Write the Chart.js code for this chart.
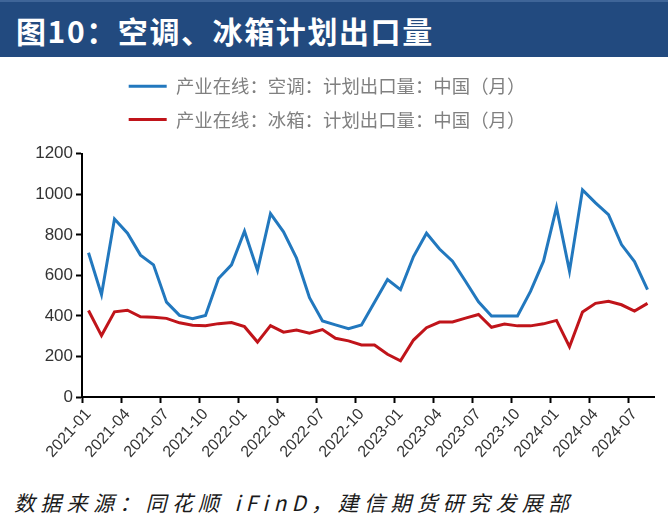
<!DOCTYPE html>
<html>
<head>
<meta charset="utf-8">
<script src="https://cdn.jsdelivr.net/npm/chart.js@4.4.1/dist/chart.umd.min.js"></script>
<style>
  html, body { margin: 0; padding: 0; background: #ffffff; }
  body { width: 668px; height: 526px; position: relative; overflow: hidden; }
  #titlebar {
    position: absolute; left: 0; top: 0; width: 668px; height: 57px;
    background: #224a7f; border-top: 2px solid #3f6598; box-sizing: border-box;
  }
  #titlebar span {
    position: absolute; left: 16px; top: 9px;
    font-family: "Noto Sans CJK SC", sans-serif; font-weight: bold;
    font-size: 30px; line-height: 38px; color: #ffffff; letter-spacing: 1.6px;
  }
  #wrap { position: absolute; left: 0; top: 58px; width: 668px; height: 420px; }
  #source {
    position: absolute; left: 14px; top: 488px;
    font-family: "Noto Sans CJK SC", sans-serif; font-style: italic;
    font-size: 21px; line-height: 28px; color: #1a1a1a; letter-spacing: 5.3px;
    white-space: nowrap;
  }
</style>
</head>
<body>
<div id="titlebar"><span>图10：空调、冰箱计划出口量</span></div>
<div id="wrap"><canvas id="c" width="668" height="420"></canvas></div>
<div id="source">数据来源：同花顺 iFinD，建信期货研究发展部</div>
<script>
const months = [
  "2021-01","2021-02","2021-03","2021-04","2021-05","2021-06","2021-07","2021-08","2021-09","2021-10","2021-11","2021-12",
  "2022-01","2022-02","2022-03","2022-04","2022-05","2022-06","2022-07","2022-08","2022-09","2022-10","2022-11","2022-12",
  "2023-01","2023-02","2023-03","2023-04","2023-05","2023-06","2023-07","2023-08","2023-09","2023-10","2023-11","2023-12",
  "2024-01","2024-02","2024-03","2024-04","2024-05","2024-06","2024-07","2024-08"
];
const tickLabels = ["2021-01","2021-04","2021-07","2021-10","2022-01","2022-04","2022-07","2022-10",
  "2023-01","2023-04","2023-07","2023-10","2024-01","2024-04","2024-07"];
const acName = "产业在线：空调：计划出口量：中国（月）";
const frName = "产业在线：冰箱：计划出口量：中国（月）";
const acValues = [
  712, 505, 878, 808, 700, 652, 468, 403, 386, 402, 585, 652,
  818, 624, 905, 815, 685, 490, 375, 356, 337, 355, 468, 580,
  530, 693, 808, 730, 670, 571, 470, 400, 400, 400, 521, 670,
  935, 621, 1022, 958, 900, 752, 668, 530
];
const frValues = [
  427, 303, 420, 428, 396, 393, 388, 366, 354, 352, 362, 367,
  347, 271, 352, 320, 330, 315, 333, 290, 277, 257, 257, 211,
  179, 281, 342, 370, 370, 389, 407, 344, 360, 351, 351, 361,
  378, 248, 419, 462, 472, 455, 424, 462
];
const yTicks = [0, 200, 400, 600, 800, 1000, 1200];

const legendGap = {
  id: 'legendGap',
  beforeInit(chart) {
    const origFit = chart.legend.fit;
    chart.legend.fit = function () {
      origFit.call(this);
      this.height += 15;
    };
  }
};

new Chart(document.getElementById('c'), {
  type: 'line',
  data: {
    labels: months,
    datasets: [
      { label: acName, data: acValues, borderColor: '#2278be', backgroundColor: '#2278be',
        borderWidth: 3, pointRadius: 0, tension: 0, pointStyle: 'line' },
      { label: frName, data: frValues, borderColor: '#c0141a', backgroundColor: '#c0141a',
        borderWidth: 3, pointRadius: 0, tension: 0, pointStyle: 'line' }
    ]
  },
  plugins: [legendGap],
  options: {
    responsive: false,
    animation: false,
    layout: { padding: { left: 0, right: 14, top: 4, bottom: 0 } },
    plugins: {
      legend: {
        position: 'top',
        labels: {
          font: { family: '"Noto Sans CJK SC", sans-serif', size: 18.4 },
          color: '#808080',
          usePointStyle: true,
          pointStyle: 'line',
          pointStyleWidth: 38,
          boxHeight: 18,
          padding: 15
        }
      },
      tooltip: { enabled: false }
    },
    scales: {
      x: {
        type: 'category',
        offset: true,
        grid: {
          offset: true,
          drawOnChartArea: false,
          tickLength: 6,
          tickWidth: 2,
          tickColor: (ctx) => (ctx.index % 3 === 0 ? '#000000' : 'rgba(0,0,0,0)')
        },
        border: { color: '#000000', width: 2 },
        ticks: {
          autoSkip: false,
          maxRotation: 48,
          minRotation: 48,
          padding: 2,
          font: { family: '"Liberation Sans", Arial, sans-serif', size: 16 },
          color: '#333333',
          callback: (v, i) => (tickLabels.includes(months[i]) ? months[i] : '')
        },
        afterFit: (scale) => { scale.height = 81; }
      },
      y: {
        min: 0, max: 1200,
        afterBuildTicks: (scale) => { scale.ticks = yTicks.map(v => ({ value: v })); },
        grid: { drawOnChartArea: false, tickLength: 6, tickWidth: 2, tickColor: '#000000' },
        border: { color: '#000000', width: 2 },
        ticks: {
          padding: 3,
          font: { family: '"Liberation Sans", Arial, sans-serif', size: 17 },
          color: '#333333',
          callback: (v) => String(v)
        },
        afterFit: (scale) => { scale.width = 82; }
      }
    }
  }
});
</script>
</body>
</html>
